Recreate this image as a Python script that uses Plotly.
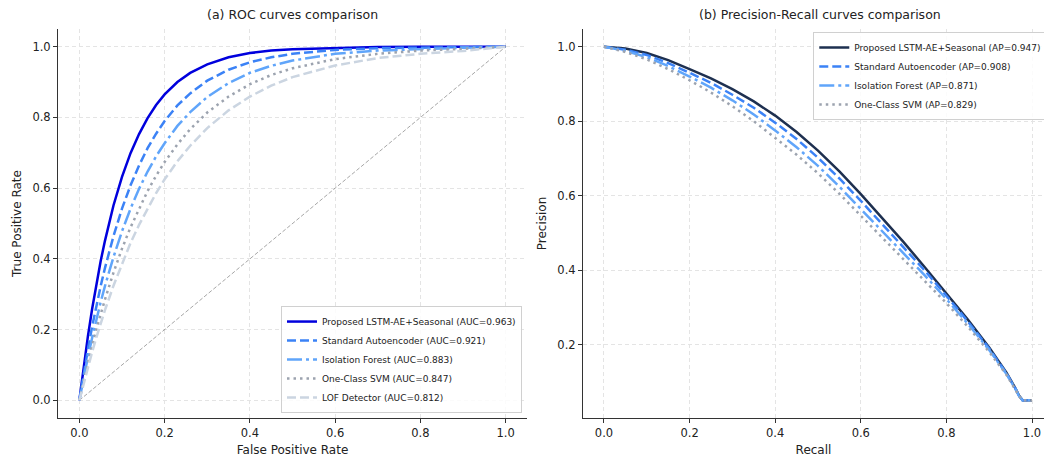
import plotly.graph_objects as go

# ---------------- ROC data ----------------
fpr = [0, 0.01, 0.02, 0.03, 0.04, 0.05, 0.06, 0.08, 0.10, 0.12, 0.14, 0.16, 0.18, 0.20,
       0.23, 0.26, 0.30, 0.35, 0.40, 0.45, 0.50, 0.60, 0.70, 0.80, 0.90, 1.00]
tpr_proposed = [0, 0.095, 0.181, 0.259, 0.330, 0.394, 0.451, 0.551, 0.632, 0.699, 0.753, 0.798, 0.835, 0.865,
                0.900, 0.926, 0.950, 0.970, 0.982, 0.989, 0.993, 0.997, 0.999, 1.0, 1.0, 1.0]
tpr_sae = [0, 0.075, 0.144, 0.209, 0.268, 0.323, 0.374, 0.464, 0.542, 0.608, 0.664, 0.713, 0.754, 0.790,
           0.834, 0.868, 0.904, 0.935, 0.956, 0.970, 0.980, 0.991, 0.996, 0.998, 0.999, 1.0]
tpr_if = [0, 0.063, 0.122, 0.177, 0.229, 0.278, 0.323, 0.405, 0.478, 0.542, 0.598, 0.647, 0.690, 0.727,
          0.776, 0.815, 0.858, 0.897, 0.926, 0.946, 0.961, 0.980, 0.989, 0.994, 0.997, 1.0]
tpr_svm = [0, 0.054, 0.106, 0.155, 0.201, 0.244, 0.285, 0.361, 0.429, 0.489, 0.543, 0.592, 0.635, 0.674,
           0.724, 0.767, 0.814, 0.859, 0.894, 0.920, 0.939, 0.965, 0.980, 0.989, 0.994, 1.0]
tpr_lof = [0, 0.048, 0.093, 0.137, 0.178, 0.217, 0.255, 0.324, 0.387, 0.445, 0.496, 0.543, 0.586, 0.625,
           0.676, 0.720, 0.770, 0.820, 0.859, 0.890, 0.914, 0.947, 0.968, 0.980, 0.988, 1.0]

roc_names = ["Proposed LSTM-AE+Seasonal (AUC=0.963)", "Standard Autoencoder (AUC=0.921)",
             "Isolation Forest (AUC=0.883)", "One-Class SVM (AUC=0.847)", "LOF Detector (AUC=0.812)"]

# ---------------- PR data ----------------
recall = [0, 0.05, 0.1, 0.15, 0.2, 0.25, 0.3, 0.35, 0.4, 0.45, 0.5, 0.55, 0.6, 0.65, 0.7, 0.75,
          0.8, 0.85, 0.9, 0.94, 0.96, 0.97, 0.978, 1.0]
prec_proposed = [1.0, 0.995, 0.983, 0.964, 0.940, 0.915, 0.886, 0.853, 0.815, 0.771, 0.721, 0.665, 0.604,
                 0.540, 0.475, 0.407, 0.338, 0.267, 0.192, 0.125, 0.085, 0.062, 0.050, 0.050]
prec_sae = [1.0, 0.992, 0.978, 0.956, 0.930, 0.903, 0.871, 0.836, 0.796, 0.752, 0.702, 0.646, 0.586,
            0.524, 0.462, 0.398, 0.331, 0.262, 0.189, 0.123, 0.084, 0.062, 0.050, 0.050]
prec_if = [1.0, 0.989, 0.972, 0.948, 0.920, 0.890, 0.856, 0.818, 0.775, 0.730, 0.680, 0.624, 0.564,
           0.504, 0.445, 0.385, 0.322, 0.256, 0.185, 0.121, 0.083, 0.061, 0.050, 0.050]
prec_svm = [1.0, 0.986, 0.966, 0.940, 0.910, 0.877, 0.840, 0.800, 0.755, 0.710, 0.660, 0.605, 0.546,
            0.487, 0.430, 0.371, 0.311, 0.248, 0.180, 0.119, 0.082, 0.061, 0.050, 0.050]

pr_names = ["Proposed LSTM-AE+Seasonal (AP=0.947)", "Standard Autoencoder (AP=0.908)",
            "Isolation Forest (AP=0.871)", "One-Class SVM (AP=0.829)"]

FONT = "DejaVu Sans"

fig = go.Figure()

# diagonal reference
fig.add_trace(go.Scatter(x=[0, 1], y=[0, 1], mode="lines", showlegend=False, hoverinfo="skip",
                         line=dict(color="rgba(0,0,0,0.35)", width=1, dash="4px,2px"),
                         xaxis="x", yaxis="y"))

roc_styles = [
    dict(color="#0000dd", width=2.5),
    dict(color="#3b82f6", width=2.5, dash="9px,4px"),
    dict(color="#60a5fa", width=2.5, dash="15px,4px,3px,4px"),
    dict(color="#9ca3af", width=2.5, dash="2.5px,4px"),
    dict(color="#cbd5e1", width=2.5, dash="9px,4px"),
]
for ys, nm, st in zip([tpr_proposed, tpr_sae, tpr_if, tpr_svm, tpr_lof], roc_names, roc_styles):
    fig.add_trace(go.Scatter(x=fpr, y=ys, mode="lines", name=nm, line=st,
                             xaxis="x", yaxis="y", legend="legend"))

pr_styles = [
    dict(color="#1e3050", width=2.5),
    dict(color="#3b82f6", width=2.5, dash="9px,4px"),
    dict(color="#60a5fa", width=2.5, dash="15px,4px,3px,4px"),
    dict(color="#9ca3af", width=2.5, dash="2.5px,4px"),
]
for ys, nm, st in zip([prec_proposed, prec_sae, prec_if, prec_svm], pr_names, pr_styles):
    fig.add_trace(go.Scatter(x=recall, y=ys, mode="lines", name=nm, line=st,
                             xaxis="x2", yaxis="y2", legend="legend2"))

ticks = [0, 0.2, 0.4, 0.6, 0.8, 1.0]
axis_common = dict(showline=True, linecolor="#333333", linewidth=1.1, ticks="outside", ticklen=4,
                   tickcolor="#333333", tickwidth=1, showgrid=True, gridcolor="#e4e4e4",
                   griddash="4px,3px", gridwidth=0.8, zeroline=False, mirror=False,
                   tickfont=dict(family=FONT, size=11.5, color="#222"), tickformat=".1f")

ydom = [0.0933, 0.937]
fig.update_layout(
    width=1044, height=461,
    margin=dict(l=0, r=0, t=0, b=0, autoexpand=False),
    paper_bgcolor="white", plot_bgcolor="white",
    font=dict(family=FONT, color="#222"),
    xaxis=dict(domain=[0.0556, 0.5048], range=[-0.05, 1.05], tickvals=ticks, anchor="y",
               title=dict(text="False Positive Rate", font=dict(family=FONT, size=12), standoff=6),
               **axis_common),
    yaxis=dict(domain=ydom, range=[-0.05, 1.05], tickvals=ticks, anchor="x",
               title=dict(text="True Positive Rate", font=dict(family=FONT, size=12), standoff=8),
               **axis_common),
    xaxis2=dict(domain=[0.5584, 1.0], range=[-0.049, 1.028], tickvals=ticks, anchor="y2",
                title=dict(text="Recall", font=dict(family=FONT, size=12), standoff=6),
                **axis_common),
    yaxis2=dict(domain=ydom, range=[0.0025, 1.0475], tickvals=[0.2, 0.4, 0.6, 0.8, 1.0], anchor="x2",
                title=dict(text="Precision", font=dict(family=FONT, size=12), standoff=8),
                **axis_common),
    legend=dict(x=0.5, xanchor="right", y=0.104, yanchor="bottom",
                bgcolor="rgba(255,255,255,0.85)", bordercolor="#d0d0d0", borderwidth=1,
                font=dict(family=FONT, size=9, color="#222"), itemwidth=30, tracegroupgap=0),
    legend2=dict(x=0.779, xanchor="left", y=0.9306, yanchor="top",
                 bgcolor="rgba(255,255,255,0.85)", bordercolor="#d0d0d0", borderwidth=1,
                 font=dict(family=FONT, size=9, color="#222"), itemwidth=30, tracegroupgap=0),
    annotations=[
        dict(text="(a) ROC curves comparison", x=0.2802, y=0.9696, xref="paper", yref="paper",
             xanchor="center", yanchor="middle", showarrow=False,
             font=dict(family=FONT, size=12.5, color="#222")),
        dict(text="(b) Precision-Recall curves comparison", x=0.7854, y=0.9696, xref="paper", yref="paper",
             xanchor="center", yanchor="middle", showarrow=False,
             font=dict(family=FONT, size=12.5, color="#222")),
    ],
)

fig.write_html("out.html", config={"displayModeBar": False},
               post_script="document.body.style.margin='0';document.body.style.overflow='hidden';")
